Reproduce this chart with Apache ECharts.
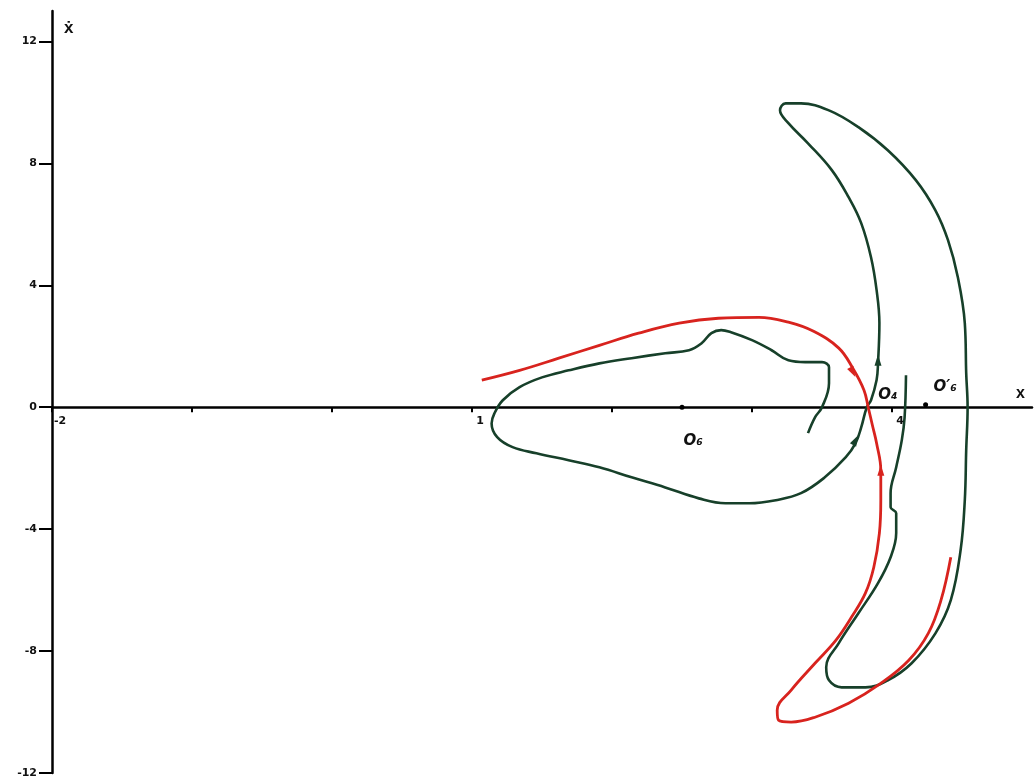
<!DOCTYPE html>
<html>
<head>
<meta charset="utf-8">
<script src="https://cdn.jsdelivr.net/npm/echarts@6/dist/echarts.min.js"></script>
<style>
  html, body { margin: 0; padding: 0; background: #fff; }
  #chart { width: 1035px; height: 784px; }
</style>
</head>
<body>
<div id="chart"></div>
<script>
// axis ticks
const xTicks = [-2, -1, 0, 1, 2, 3, 4];
const xLabels = [-2, 1, 4];
const yTicks = [-12, -8, -4, 0, 4, 8, 12];

// red trajectory [x, xdot]
const redCurve = [
  [1.07, 0.89], [1.34, 1.21], [1.62, 1.61], [1.91, 2.03], [2.19, 2.43], [2.48, 2.76],
  [2.76, 2.92], [3.05, 2.95], [3.26, 2.79], [3.44, 2.49], [3.62, 1.94], [3.72, 1.28],
  [3.80, 0.56], [3.83, 0], [3.86, -0.59], [3.89, -1.18], [3.92, -2.07], [3.92, -3.05],
  [3.91, -4.13], [3.87, -5.25], [3.81, -6.10], [3.71, -6.89], [3.60, -7.64], [3.45, -8.40],
  [3.28, -9.28], [3.18, -9.94], [3.19, -10.27], [3.28, -10.33], [3.45, -10.17], [3.69, -9.71],
  [3.92, -9.06], [4.12, -8.30], [4.26, -7.41], [4.35, -6.33], [4.42, -4.92]
];

// green trajectory [x, xdot]
const greenCurve = [
  [3.40, -0.85], [3.45, -0.33], [3.50, 0], [3.55, 0.79], [3.55, 1.31], [3.50, 1.48],
  [3.38, 1.48], [3.26, 1.54], [3.14, 1.87], [3.00, 2.20], [2.85, 2.46], [2.78, 2.53],
  [2.71, 2.43], [2.64, 2.10], [2.55, 1.87], [2.38, 1.77], [2.14, 1.61], [1.91, 1.44],
  [1.69, 1.21], [1.50, 0.98], [1.34, 0.66], [1.22, 0.23], [1.16, -0.20], [1.14, -0.53],
  [1.18, -0.98], [1.29, -1.31], [1.46, -1.51], [1.69, -1.74], [1.91, -1.97], [2.14, -2.30],
  [2.38, -2.63], [2.62, -2.99], [2.81, -3.15], [2.98, -3.15], [3.17, -3.05], [3.35, -2.82],
  [3.52, -2.30], [3.67, -1.64], [3.74, -1.18], [3.78, -0.66], [3.82, 0], [3.85, 0.23],
  [3.89, 0.89], [3.90, 1.44], [3.91, 2.76], [3.89, 3.84], [3.85, 4.92], [3.78, 6.04],
  [3.69, 6.89], [3.57, 7.78], [3.40, 8.66], [3.26, 9.32], [3.20, 9.74], [3.24, 9.97],
  [3.35, 9.97], [3.55, 9.74], [3.76, 9.19], [3.97, 8.43], [4.17, 7.45], [4.31, 6.46],
  [4.40, 5.48], [4.47, 4.27], [4.52, 2.76], [4.53, 1.12], [4.54, 0], [4.53, -1.41],
  [4.52, -3.05], [4.49, -4.69], [4.42, -6.33], [4.31, -7.42], [4.14, -8.40], [3.97, -8.96],
  [3.81, -9.19], [3.64, -9.19], [3.55, -8.96], [3.53, -8.53], [3.62, -7.74], [3.76, -6.76],
  [3.90, -5.77], [3.99, -4.92], [4.03, -4.13], [4.03, -3.48], [3.99, -3.28], [3.99, -2.82],
  [4.03, -1.97], [4.07, -1.08], [4.09, -0.33], [4.10, 1.05]
];

// arrows on the curves [x, xdot, rotation]
const redArrows = [[3.72, 1.15, -152], [3.92, -2.07, 0]];
const greenArrows = [[3.90, 1.54, 0], [3.74, -1.08, -28]];

// singular points and their names
const points = [[2.5, 0], [4.24, 0.08]];
const pointNames = [[2.58, -1.1, 'O₆'], [3.97, 0.4, 'O₄'], [4.38, 0.66, 'O′₆']];

const chart = echarts.init(document.getElementById('chart'));

const red = '#d8231e';
const green = '#17402a';

chart.setOption({
  animation: false,
  backgroundColor: '#ffffff',
  grid: { left: 52, right: 3, top: 11, bottom: 11, outerBoundsMode: 'none' },
  xAxis: {
    type: 'value',
    min: -2,
    max: 5,
    name: 'x',
    nameLocation: 'end',
    nameGap: -16,
    nameTextStyle: { fontSize: 16, fontWeight: 'bold', color: '#111', verticalAlign: 'bottom', padding: [0, 0, 6, 0] },
    splitLine: { show: false },
    axisLine: { onZero: true, lineStyle: { color: '#000', width: 2.5 } },
    axisTick: { customValues: xTicks, length: 5, lineStyle: { color: '#000', width: 2 } },
    axisLabel: { show: false }
  },
  yAxis: {
    type: 'value',
    min: -12,
    max: 13,
    name: 'x\u0307',
    nameLocation: 'end',
    nameGap: -26,
    nameTextStyle: { fontSize: 17, fontWeight: 'bold', color: '#111', align: 'left', padding: [0, 0, 0, 12] },
    splitLine: { show: false },
    axisLine: { onZero: false, lineStyle: { color: '#000', width: 2.5 } },
    axisTick: { customValues: yTicks, length: 13, lineStyle: { color: '#000', width: 2 } },
    axisLabel: {
      customValues: yTicks,
      margin: 15,
      fontSize: 11,
      fontWeight: 'bold',
      color: '#111',
      fontFamily: 'DejaVu Sans'
    }
  },
  series: [
    {
      name: 'green',
      type: 'line',
      data: greenCurve,
      smooth: 0.4,
      showSymbol: false,
      lineStyle: { color: green, width: 2.6 },
      z: 3
    },
    {
      name: 'red',
      type: 'line',
      data: redCurve,
      smooth: 0.4,
      showSymbol: false,
      lineStyle: { color: red, width: 2.8 },
      z: 4
    },
    {
      name: 'redArrows',
      type: 'scatter',
      data: redArrows.map(a => ({ value: [a[0], a[1]], symbolRotate: a[2] })),
      symbol: 'triangle',
      symbolSize: [7, 11],
      itemStyle: { color: red, opacity: 1 },
      z: 5
    },
    {
      name: 'greenArrows',
      type: 'scatter',
      data: greenArrows.map(a => ({ value: [a[0], a[1]], symbolRotate: a[2] })),
      symbol: 'triangle',
      symbolSize: [7, 11],
      itemStyle: { color: green, opacity: 1 },
      z: 5
    },
    {
      name: 'points',
      type: 'scatter',
      data: points,
      symbolSize: 5,
      itemStyle: { color: '#000', opacity: 1 },
      z: 5
    },
    {
      name: 'xTickLabels',
      type: 'scatter',
      data: xLabels.map(v => [v, 0]),
      symbolSize: 0,
      itemStyle: { opacity: 1 },
      label: {
        show: true,
        position: 'bottom',
        distance: 8,
        offset: [8, 0],
        formatter: p => String(p.value[0]),
        fontSize: 11,
        fontWeight: 'bold',
        fontFamily: 'DejaVu Sans',
        color: '#111'
      },
      z: 6
    },
    {
      name: 'names',
      type: 'scatter',
      data: pointNames,
      symbolSize: 0,
      itemStyle: { opacity: 1 },
      label: {
        show: true,
        position: 'inside',
        formatter: p => p.value[2],
        fontSize: 15,
        fontStyle: 'italic',
        fontWeight: 'bold',
        fontFamily: 'DejaVu Sans',
        color: '#111'
      },
      z: 6
    }
  ]
});
</script>
</body>
</html>
